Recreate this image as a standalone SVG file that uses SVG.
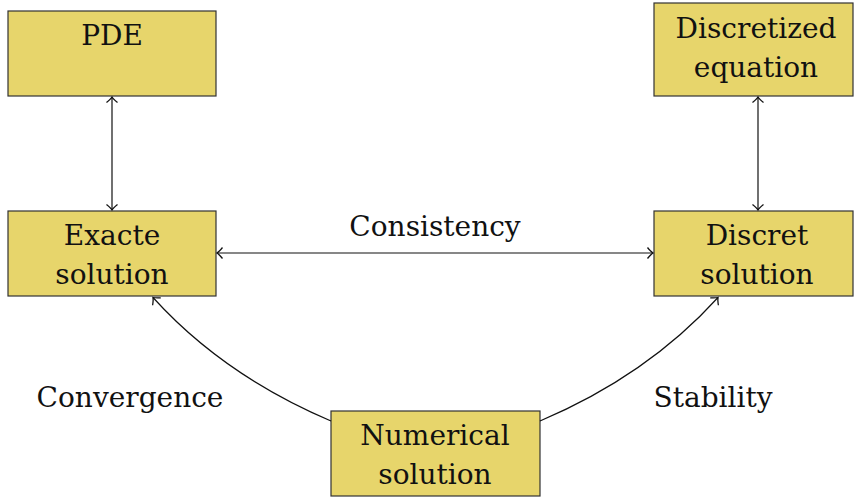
<svg xmlns="http://www.w3.org/2000/svg" width="854" height="497" viewBox="0 0 854 497">
<defs>
<style>
.box{fill:#e7d56b;stroke:#333;stroke-width:1.2}
.t{font-family:'DejaVu Serif',serif;font-size:28px;fill:#111;text-anchor:middle}
.c{fill:none;stroke:#111;stroke-width:1.2}
</style>
<marker id="ah" viewBox="-8 -8 16 16" markerWidth="16" markerHeight="16" refX="0" refY="0" orient="auto-start-reverse" markerUnits="userSpaceOnUse">
<path d="M-5.5,-5.5 Q-2,-1.2 0,0 Q-2,1.2 -5.5,5.5" fill="none" stroke="#111" stroke-width="1.3"/>
</marker>
</defs>
<rect width="854" height="497" fill="#fff"/>
<g id="pde"><rect class="box" x="8" y="11" width="208" height="85"/><text class="t" x="112" y="45">PDE</text></g>
<g id="discretized"><rect class="box" x="654" y="3" width="199" height="93"/><text class="t" x="756" y="38">Discretized</text><text class="t" x="756" y="77">equation</text></g>
<g id="exacte"><rect class="box" x="8" y="211" width="208" height="85"/><text class="t" x="112" y="245">Exacte</text><text class="t" x="112" y="284">solution</text></g>
<g id="discret"><rect class="box" x="654" y="211" width="199" height="85"/><text class="t" x="757" y="245">Discret</text><text class="t" x="757" y="284">solution</text></g>
<g id="numerical"><rect class="box" x="331" y="411" width="209" height="85"/><text class="t" x="435" y="445">Numerical</text><text class="t" x="435" y="484">solution</text></g>
<g id="connectors">
<line class="c" x1="112" y1="97" x2="112" y2="210" marker-start="url(#ah)" marker-end="url(#ah)"/>
<line class="c" x1="758" y1="97" x2="758" y2="210" marker-start="url(#ah)" marker-end="url(#ah)"/>
<line class="c" x1="217" y1="253" x2="653" y2="253" marker-start="url(#ah)" marker-end="url(#ah)"/>
<path class="c" d="M331,421 Q223.6,375.4 153,297.5" marker-end="url(#ah)"/>
<path class="c" d="M540,421 Q647.4,375.4 718,297.5" marker-end="url(#ah)"/>
</g>
<g id="labels">
<text class="t" x="435" y="236">Consistency</text>
<text class="t" x="130" y="407">Convergence</text>
<text class="t" x="713" y="407">Stability</text>
</g>
</svg>
